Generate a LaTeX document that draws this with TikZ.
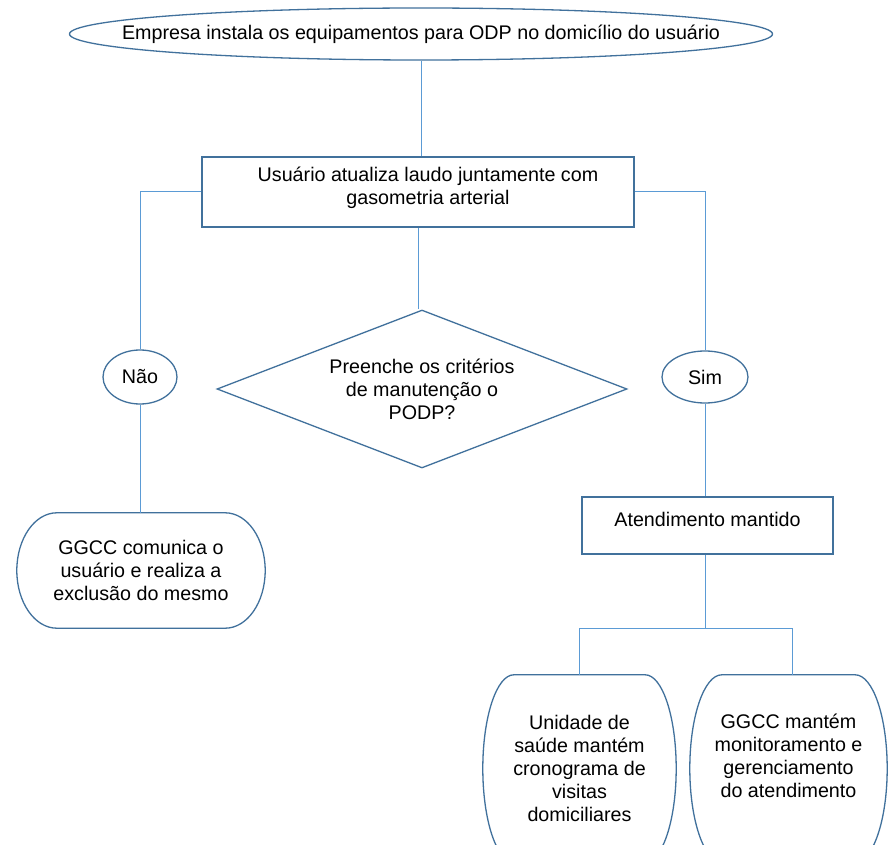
\documentclass[tikz,border=0pt]{standalone}
\usepackage{fontspec}
\setmainfont{Liberation Sans}
\usetikzlibrary{shapes.geometric,calc}
\definecolor{boxc}{HTML}{41719C}
\definecolor{linec}{HTML}{5B9BD5}
\newcommand\termshape[2]{%
  \draw[boxline] let \p1=(#1.north west), \p2=(#1.south east), \n1={(\y1-\y2)/2} in
    (\x1+#2,\y1) -- (\x2-#2,\y1)
    arc[start angle=90,end angle=-90,x radius=#2,y radius=\n1]
    -- (\x1+#2,\y2)
    arc[start angle=270,end angle=90,x radius=#2,y radius=\n1] -- cycle;}
\begin{document}
\begin{tikzpicture}[x=1pt,y=1pt,
  font=\fontsize{19.7}{23}\selectfont,
  boxline/.style={draw=boxc, line width=1.3pt},
  box/.style={boxline, fill=white, inner sep=0pt},
  txt/.style={inner sep=0pt, align=center, text=black},
  frame/.style={draw=none, inner sep=0pt},
  conn/.style={draw=linec, line width=1pt}]
\useasboundingbox (0,0) rectangle (895,-845);
\clip (0,0) rectangle (895,-845);
\fill[white] (0,0) rectangle (895,-845);

% nodes
\node[box, ellipse, minimum width=703, minimum height=52,
  label={[txt]center:Empresa instala os equipamentos para ODP no domicílio do usuário}]
  (start) at (421,-34) {};
\node[box, rectangle, minimum width=432, minimum height=70,
  label={[txt,yshift=4pt,xshift=10pt]center:{Usuário atualiza laudo juntamente com\\gasometria arterial}}]
  (upd) at (418,-192) {};
\node[box, diamond, aspect=2.6, minimum width=410, minimum height=158,
  label={[txt]center:{Preenche os critérios\\de manutenção o\\PODP?}}]
  (dec) at (422,-389) {};
\node[box, ellipse, minimum width=74, minimum height=54,
  label={[txt]center:Não}] (nao) at (140,-377) {};
\node[box, ellipse, minimum width=86, minimum height=52,
  label={[txt]center:Sim}] (sim) at (705,-377) {};
\node[frame, minimum width=248, minimum height=115,
  label={[txt]center:{GGCC comunica o\\usuário e realiza a\\exclusão do mesmo}}]
  (excl) at (141,-570.5) {};
\termshape{excl}{40pt}
\node[box, rectangle, minimum width=251, minimum height=57,
  label={[txt,yshift=6pt]center:Atendimento mantido}]
  (mant) at (707.5,-525.5) {};
\node[frame, minimum width=193, minimum height=187,
  label={[txt]center:{Unidade de\\saúde mantém\\cronograma de\\visitas\\domiciliares}}]
  (unid) at (579.5,-768.5) {};
\termshape{unid}{31pt}
\node[frame, minimum width=197, minimum height=187,
  label={[txt,yshift=13pt]center:{GGCC mantém\\monitoramento e\\gerenciamento\\do atendimento}}]
  (ggcc) at (788.5,-768.5) {};
\termshape{ggcc}{32pt}

% connectors
\draw[conn] (start.south) -- (start.south |- upd.north);
\draw[conn] (upd.south) -- (upd.south |- dec.north);
\draw[conn] (upd.west) -| (nao.north);
\draw[conn] (upd.east) -| (sim.north);
\draw[conn] (nao.south) -- (nao.south |- excl.north);
\draw[conn] (sim.south) -- (sim.south |- mant.north);
\coordinate (split) at ($(sim.south |- mant.south)+(0,-74)$);
\draw[conn] (sim.south |- mant.south) -- (split);
\draw[conn] (split) -| (unid.north);
\draw[conn] (split) -| ([xshift=4pt]ggcc.north);
\end{tikzpicture}
\end{document}
